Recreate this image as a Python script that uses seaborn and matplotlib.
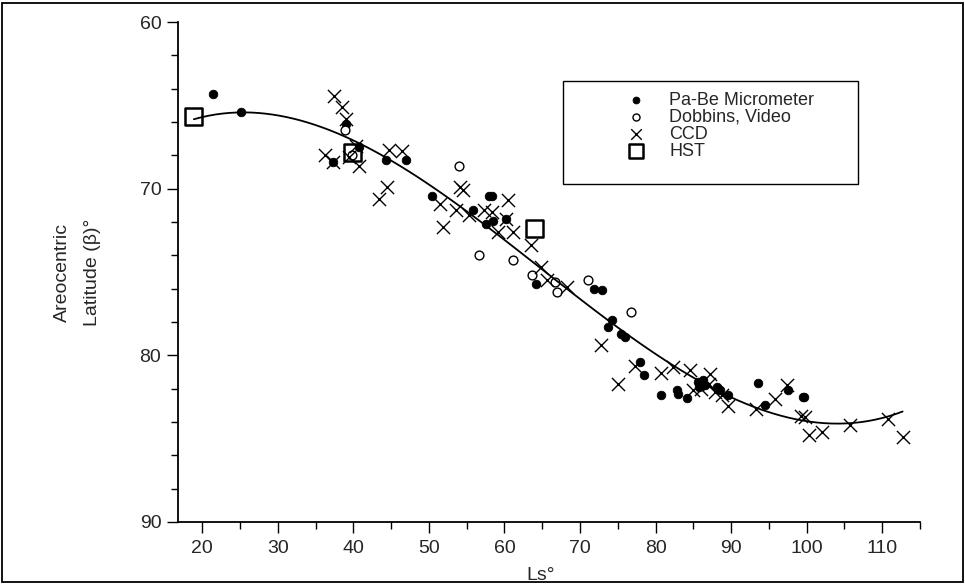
import numpy as np
import pandas as pd
import matplotlib
matplotlib.use("Agg")
import matplotlib.pyplot as plt
from matplotlib.patches import Rectangle
from matplotlib.ticker import MultipleLocator
import seaborn as sns

# ===================== DATA =====================
pabe_ls = [21.4, 25.2, 39.05, 40.8, 37.3, 44.3, 47.0, 50.4, 55.85, 58.0, 58.4, 57.6,
           58.5, 60.2, 64.2, 71.9, 72.9, 74.2, 73.7, 75.4, 75.9, 78.0, 78.5, 80.7,
           82.9, 82.95, 84.2, 85.6, 86.3, 85.8, 86.5, 88.2, 88.5, 89.6, 93.6, 94.45,
           97.5, 99.5, 99.7]
pabe_lat = [64.3, 65.4, 66.1, 67.5, 68.4, 68.3, 68.3, 70.45, 71.3, 70.45, 70.45, 72.1,
            71.95, 71.8, 75.7, 76.0, 76.1, 77.9, 78.3, 78.7, 78.9, 80.4, 81.2, 82.35,
            82.1, 82.3, 82.55, 81.6, 81.45, 81.9, 81.8, 81.9, 82.1, 82.4, 81.65, 83.0,
            82.1, 82.5, 82.5]

dobbins_ls = [38.9, 39.85, 54.0, 56.7, 61.1, 63.6, 66.7, 67.0, 71.1, 76.7]
dobbins_lat = [66.5, 67.95, 68.65, 74.0, 74.3, 75.2, 75.6, 76.2, 75.5, 77.4]

ccd_ls = [37.5, 38.5, 39.05, 40.3, 39.4, 40.7, 36.3, 37.3, 44.7, 46.5, 44.4, 43.4,
          54.1, 54.5, 51.5, 53.55, 55.3, 51.9, 60.5, 57.3, 58.4, 60.2, 59.2, 61.1,
          63.5, 64.8, 65.7, 68.3, 72.8, 77.3, 80.7, 75.0, 82.3, 84.5, 87.2, 84.9,
          86.0, 87.1, 87.9, 88.8, 89.6, 93.3, 95.8, 97.4, 99.3, 99.75, 100.3, 102.05,
          105.7, 110.8, 112.7]
ccd_lat = [64.45, 65.1, 65.8, 67.45, 68.1, 68.65, 68.0, 68.4, 67.7, 67.75, 69.9, 70.6,
           69.9, 70.05, 70.9, 71.3, 71.6, 72.3, 70.7, 71.3, 71.4, 71.8, 72.6, 72.6,
           73.35, 74.7, 75.5, 75.9, 79.4, 80.65, 81.05, 81.7, 80.7, 80.9, 81.1, 82.1,
           82.0, 81.7, 82.2, 82.35, 83.05, 83.2, 82.6, 81.8, 83.65, 83.7, 84.8, 84.6,
           84.15, 83.8, 84.9]

hst_ls = [18.9, 39.85, 64.0]
hst_lat = [65.65, 67.85, 72.4]

# ===================== PLOT =====================
sns.set_style("ticks")
plt.rcParams['font.family'] = ['Liberation Sans', 'DejaVu Sans']

W, H = 965, 584
fig = plt.figure(figsize=(W / 100, H / 100), dpi=100)
ax = fig.add_axes([178 / W, 1 - 522 / H, 742 / W, 500 / H])

allpts = pd.DataFrame({
    'ls': pabe_ls + dobbins_ls + ccd_ls + hst_ls,
    'lat': pabe_lat + dobbins_lat + ccd_lat + hst_lat,
})
# cubic fit through all observations
sns.regplot(data=allpts, x='ls', y='lat', order=3, scatter=False, ci=None,
            truncate=True, color='black', line_kws={'linewidth': 1.3}, ax=ax)

sns.scatterplot(x=pabe_ls, y=pabe_lat, marker='o', s=38, color='black',
                edgecolor='black', linewidth=0.6, label='Pa-Be Micrometer', ax=ax)
sns.scatterplot(x=dobbins_ls, y=dobbins_lat, marker='o', s=40, facecolor='white',
                edgecolor='black', linewidth=1.0, label='Dobbins, Video', ax=ax)
sns.scatterplot(x=ccd_ls, y=ccd_lat, marker='x', s=90, color='black',
                linewidth=1.0, label='CCD', ax=ax)
sns.scatterplot(x=hst_ls, y=hst_lat, marker='s', s=150, facecolor='none',
                edgecolor='black', linewidth=1.8, label='HST', ax=ax)

ax.set_xlim(16.8, 115)
ax.set_ylim(90, 60)
ax.xaxis.set_major_locator(MultipleLocator(10))
ax.xaxis.set_minor_locator(MultipleLocator(5))
ax.yaxis.set_major_locator(MultipleLocator(10))
ax.yaxis.set_minor_locator(MultipleLocator(2))
ax.set_xticks(range(20, 111, 10))
ax.tick_params(which='major', length=8, width=1.0, labelsize=14, color='black')
ax.tick_params(which='minor', length=5, width=1.0, color='black')
ax.tick_params(axis='x', pad=5)
ax.tick_params(axis='y', pad=4)
sns.despine(ax=ax)
for side in ['left', 'bottom']:
    ax.spines[side].set_linewidth(1.3)
    ax.spines[side].set_color('black')

ax.set_xlabel('Ls°', fontsize=14)
ax.xaxis.set_label_coords((541 - 178) / 742, -(567 - 522) / 500)
ax.set_ylabel('Areocentric\nLatitude (β)°', fontsize=14, linespacing=2.0)
ax.yaxis.set_label_coords(-(178 - 101) / 742, 0.5)

# legend entries without frame, box drawn separately
leg = ax.legend(loc='upper left', bbox_to_anchor=(627 / W, 1 - 92 / H),
                bbox_transform=fig.transFigure, fontsize=13, frameon=False,
                labelspacing=0.0, handlelength=1.0, handletextpad=1.35,
                borderpad=0, borderaxespad=0, markerscale=0.8)
fig.patches.append(Rectangle((563 / W, 1 - 184 / H), 295 / W, 103 / H,
                             transform=fig.transFigure, fill=False,
                             edgecolor='black', linewidth=1.0))

# outer frame
fig.patches.append(Rectangle((0.002, 0.004), 0.996, 0.991, transform=fig.transFigure,
                             fill=False, edgecolor='black', linewidth=1.3))

fig.savefig('out.png', dpi=100)
